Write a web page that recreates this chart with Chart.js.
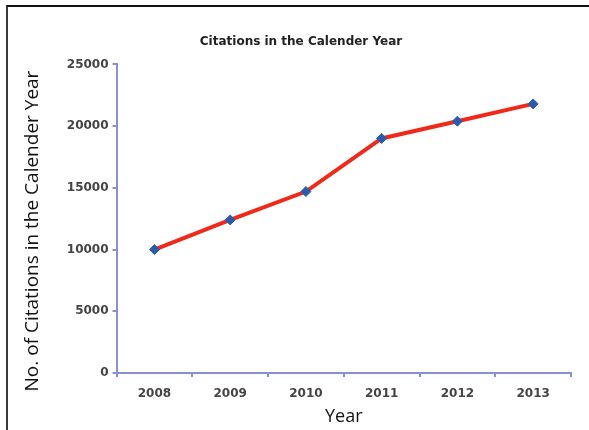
<!DOCTYPE html>
<html>
<head>
<meta charset="utf-8">
<script src="https://cdn.jsdelivr.net/npm/chart.js@4/dist/chart.umd.min.js"></script>
<style>
  html, body { margin: 0; padding: 0; background: #fff; }
  #wrap { position: relative; width: 589px; height: 430px; overflow: hidden; }
  #frame {
    position: absolute; left: 6px; top: 5px; right: -4px; bottom: -4px;
    border-top: 2px solid #111; border-left: 2px solid #3a3a3a;
    pointer-events: none;
  }
  canvas { position: absolute; left: 0; top: 0; }
</style>
</head>
<body>
<div id="wrap">
  <canvas id="chart" width="589" height="430"></canvas>
  <div id="frame"></div>
</div>
<script>
// Citations per calendar year
const years = ['2008', '2009', '2010', '2011', '2012', '2013'];
const citations = [10000, 12400, 14700, 19000, 20400, 21800];
const yTicks = [0, 5000, 10000, 15000, 20000, 25000];

const axisBlue = '#8a8fd0';
const tickFont = { family: 'DejaVu Sans, sans-serif', size: 12, weight: 'bold' };

new Chart(document.getElementById('chart'), {
  type: 'line',
  data: {
    labels: years,
    datasets: [{
      data: citations,
      borderColor: '#f02a1a',
      borderWidth: 4,
      tension: 0,
      pointStyle: 'rectRot',
      pointRadius: 5,
      pointBackgroundColor: '#2a5caa',
      pointBorderColor: '#2a5caa',
      pointBorderWidth: 1
    }]
  },
  options: {
    responsive: false,
    animation: false,
    layout: { padding: { left: 31, right: 18, top: 35, bottom: 2 } },
    plugins: {
      legend: { display: false },
      tooltip: { enabled: false },
      title: {
        display: true,
        text: 'Citations in the Calender Year',
        color: '#222',
        font: { family: 'DejaVu Sans, sans-serif', size: 12, weight: 'bold' },
        padding: { top: 0, bottom: 15 }
      }
    },
    scales: {
      x: {
        offset: true,
        border: { color: axisBlue, width: 2 },
        grid: { offset: true, drawOnChartArea: false, drawTicks: true, tickLength: 4, color: axisBlue, lineWidth: 2 },
        ticks: { color: '#444', font: tickFont, padding: 10, maxRotation: 0 },
        title: { display: true, text: 'Year', color: '#111', font: { family: 'Open Sans, sans-serif', size: 18 }, padding: { top: -5, bottom: 0 } }
      },
      y: {
        min: 0,
        max: 25000,
        afterBuildTicks: (scale) => { scale.ticks = yTicks.map(v => ({ value: v })); },
        border: { color: axisBlue, width: 2 },
        grid: { drawOnChartArea: false, drawTicks: true, tickLength: 4, color: axisBlue, lineWidth: 2 },
        ticks: { color: '#444', font: tickFont, padding: 4, callback: (v) => String(v) },
        title: { display: true, text: 'No. of Citations in the Calender Year     ', color: '#111', font: { family: 'Open Sans, sans-serif', size: 19 }, padding: { top: -10, bottom: 19 } }
      }
    }
  }
});
</script>
</body>
</html>
